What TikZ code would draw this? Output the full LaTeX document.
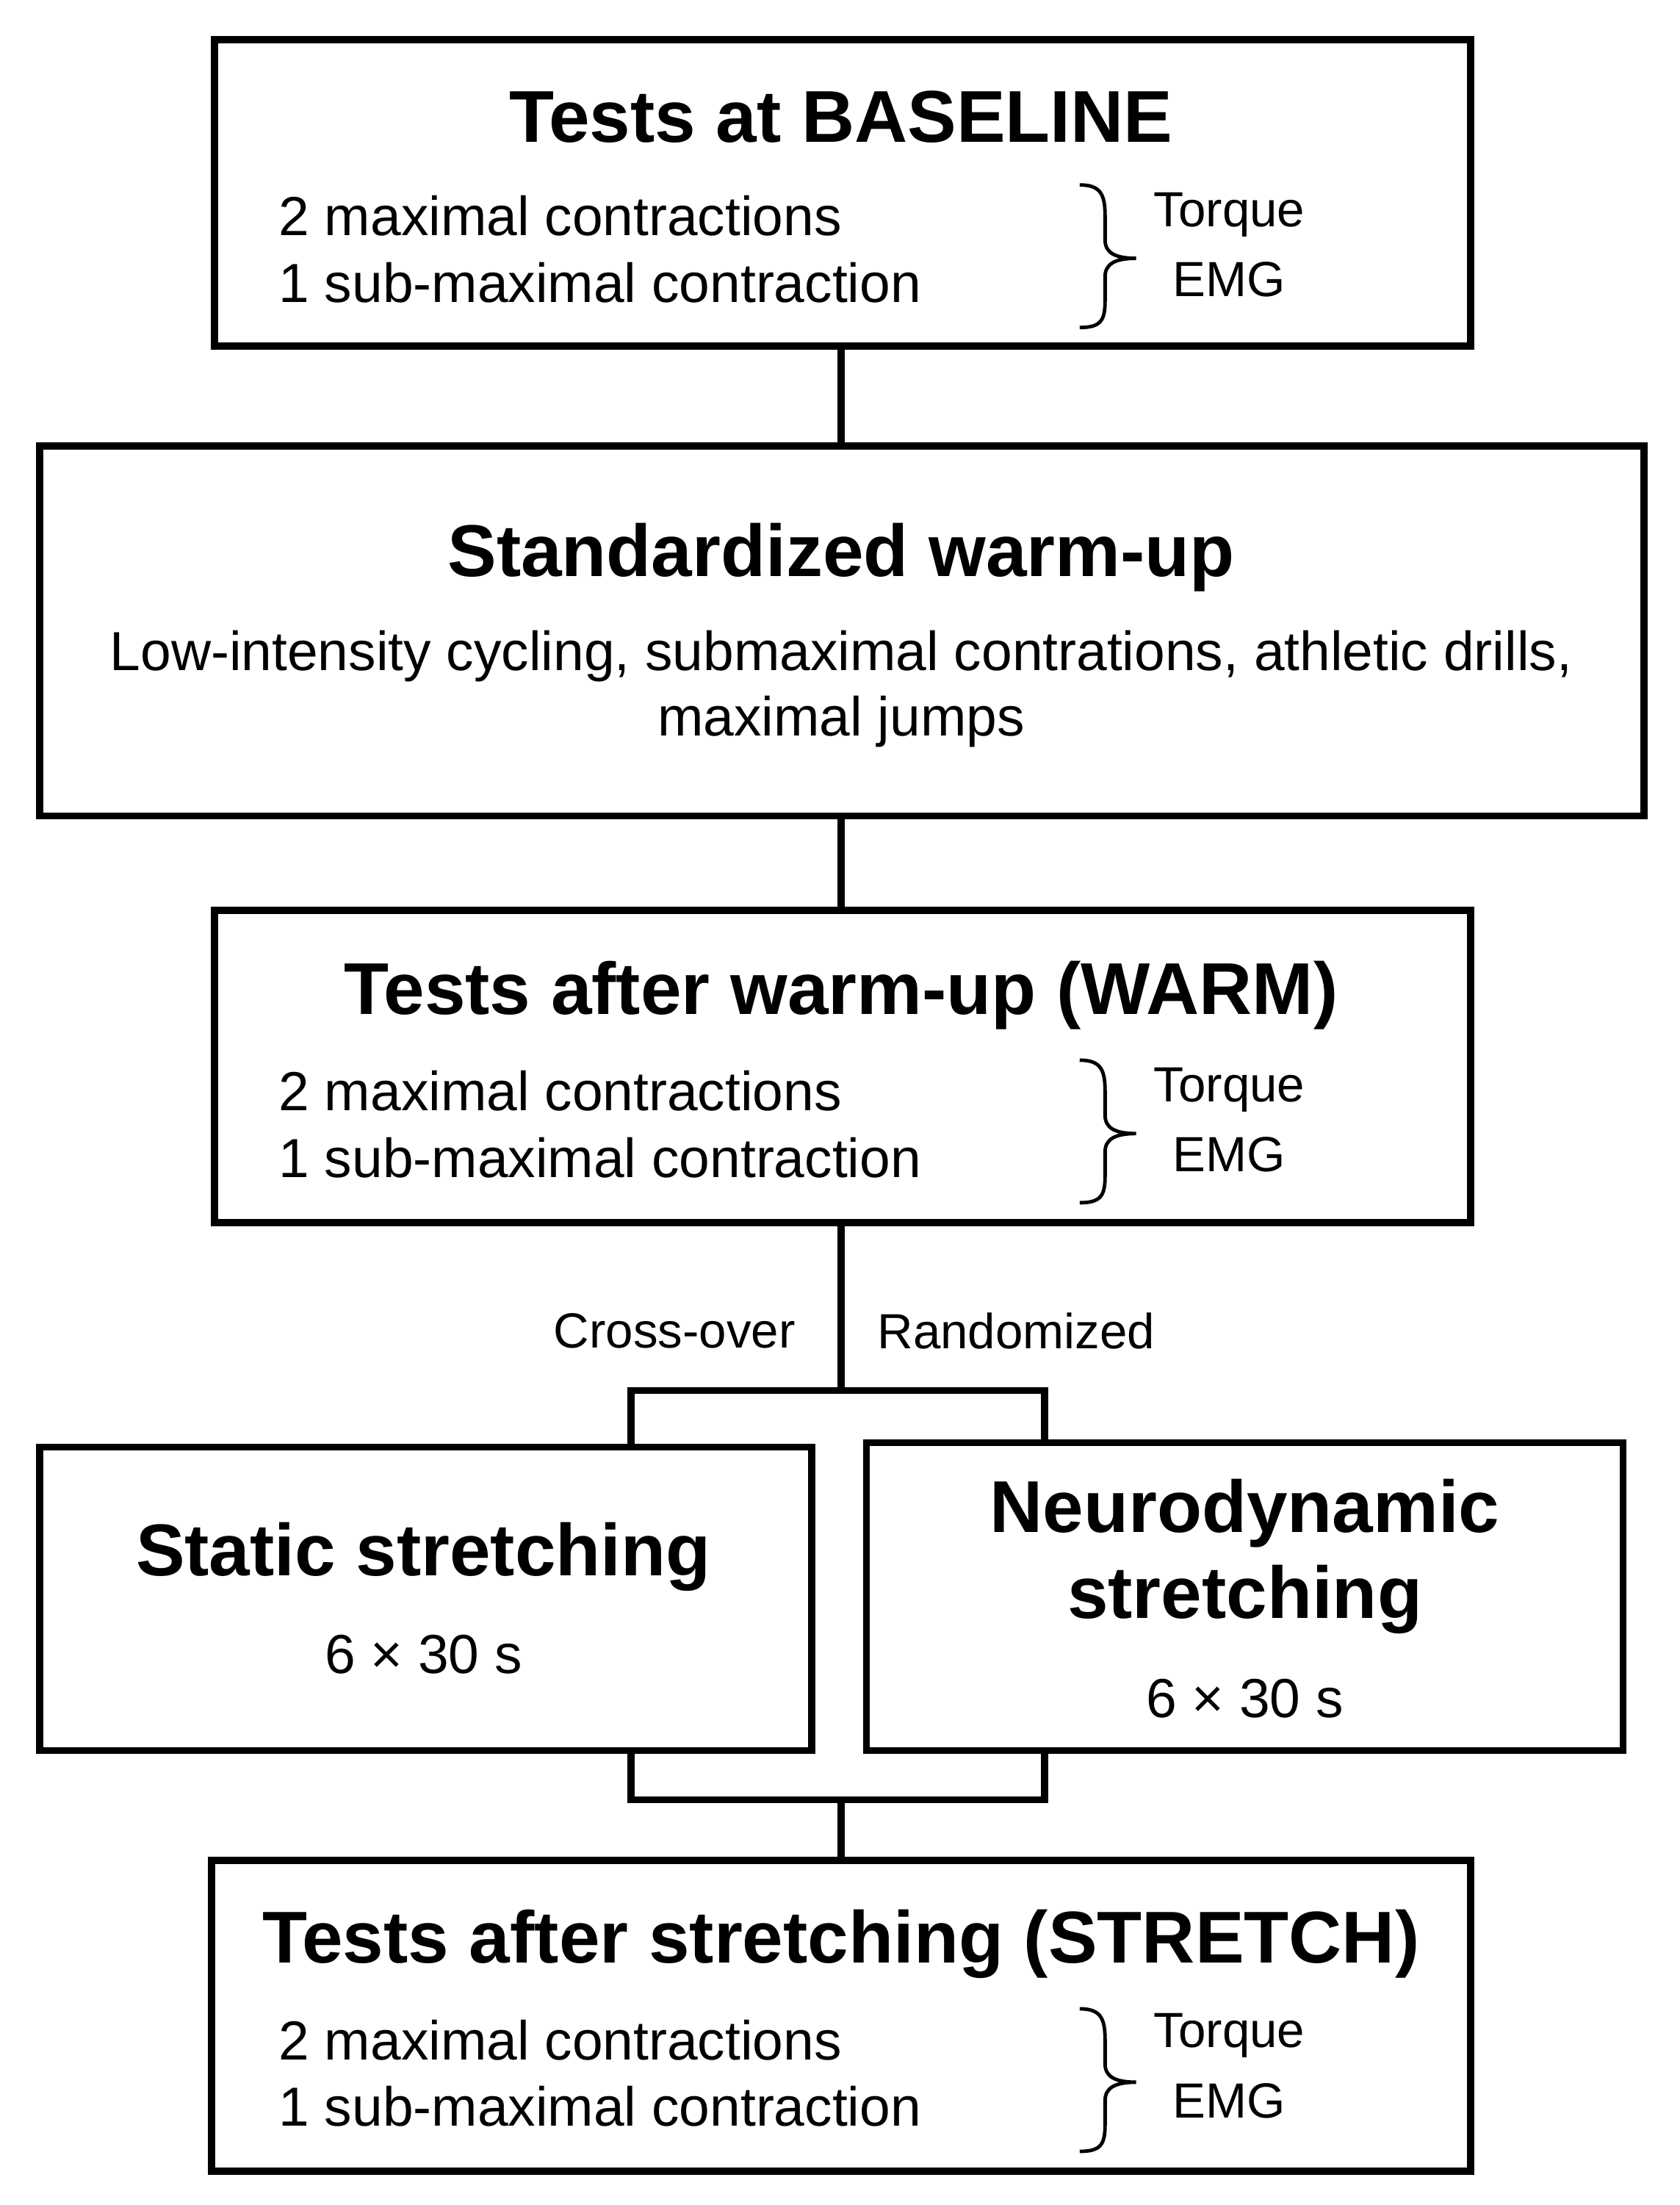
\documentclass[tikz,border=0pt]{standalone}
\usepackage{fontspec}
\setmainfont{Liberation Sans}
\begin{document}
\begin{tikzpicture}[x=1pt,y=-1pt,
  box/.style={draw,line width=5pt},
  ln/.style={line width=5pt},
  ttl/.style={font=\fontsize{52}{60}\selectfont\bfseries},
  bd/.style={font=\fontsize{39}{46}\selectfont},
  sm/.style={font=\fontsize{35}{40}\selectfont}]
\useasboundingbox (0,0) rectangle (1190,1562);
% boxes
\draw[box] (152,28) rectangle (1042,245);
\draw[box] (28,316) rectangle (1165,578);
\draw[box] (152,645) rectangle (1042,866);
\draw[box] (28,1025) rectangle (575,1240);
\draw[box] (614,1022) rectangle (1150,1240);
\draw[box] (150,1318) rectangle (1042,1538);
% connectors
\coordinate (c1) at (596,245); \coordinate (c2) at (596,316);
\coordinate (c3) at (596,578); \coordinate (c4) at (596,645);
\coordinate (c5) at (596,866); \coordinate (c6) at (596,985);
\coordinate (c7) at (596,1275); \coordinate (c8) at (596,1318);
\draw[ln] (c1)--(c2); \draw[ln] (c3)--(c4); \draw[ln] (c5)--(c6);
\draw[ln] (447,1025)--(447,985)--(740,985)--(740,1022);
\draw[ln] (447,1240)--(447,1275)--(740,1275)--(740,1240);
\draw[ln] (c7)--(c8);
% box contents
\node[ttl] (t1) at (596,83) {Tests at BASELINE};
\foreach \n/\y/\ty in {a/153/152,b/773/772,c/1445/1442}{
  \node[bd,anchor=west] (\n1) at (194,\y) {2 maximal contractions};
  \node[bd,anchor=west] (\n2) at (194,\y+47) {1 sub-maximal contraction};
  \draw[line width=2.5pt] (765,\y-22) .. controls (780,\y-22) and (783,\y-15) .. (783,\y) -- (783,\y+17) .. controls (783,\y+26) and (790,\y+30) .. (805,\y+30)
    .. controls (790,\y+30) and (783,\y+34) .. (783,\y+43) -- (783,\y+60) .. controls (783,\y+74) and (780,\y+79) .. (765,\y+79);
  \node[sm] (\n3) at (871,\ty) {Torque};
  \node[sm] (\n4) at (871,\ty+46) {EMG};
}
\node[ttl] (t2) at (596,395) {Standardized warm-up};
\node[bd] (w1) at (596,465) {Low-intensity cycling, submaximal contrations, athletic drills,};
\node[bd] (w2) at (596,511) {maximal jumps};
\node[ttl] (t3) at (596,705) {Tests after warm-up (WARM)};
\node[sm] (co) at (478,943) {Cross-over};
\node[sm] (ra) at (720,943) {Randomized};
\node[ttl] (t4) at (300,1103) {Static stretching};
\node[bd] (s4) at (300,1172) {6 × 30 s};
\node[ttl] (t5a) at (882,1072) {Neurodynamic};
\node[ttl] (t5b) at (882,1133) {stretching};
\node[bd] (s5) at (882,1203) {6 × 30 s};
\node[ttl] (t6) at (596,1377) {Tests after stretching (STRETCH)};
\end{tikzpicture}
\end{document}
